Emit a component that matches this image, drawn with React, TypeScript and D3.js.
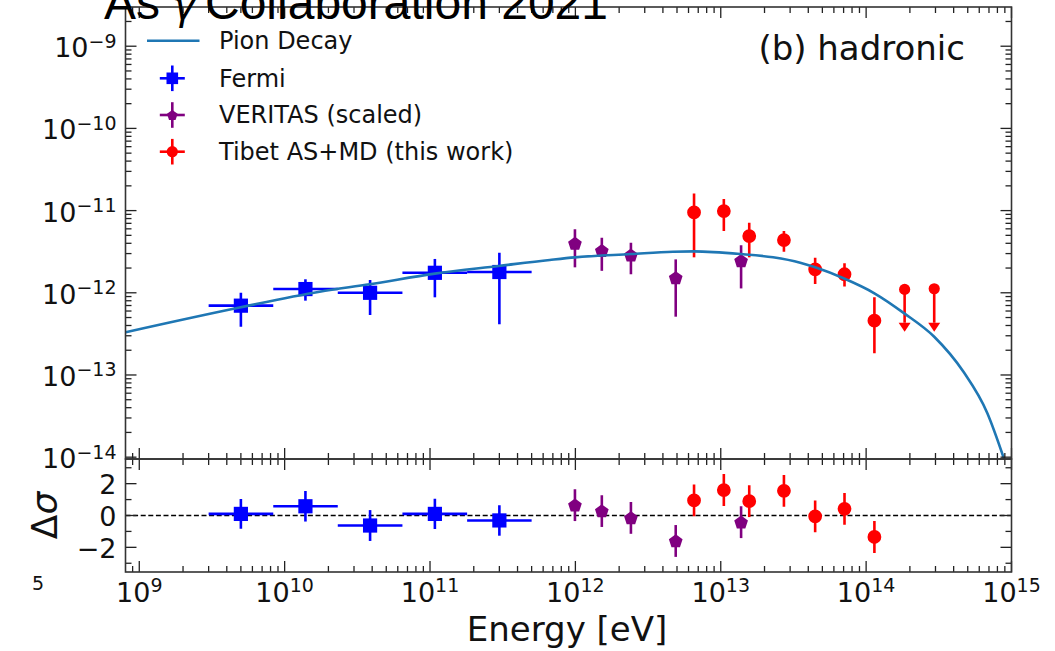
import React from 'react';
import * as d3 from 'd3';

// ---------- data ----------
const curveE = [8.04e8, 4.9e9, 1.74e10, 3.85e10, 1.08e11, 2.97e11, 6.67e11, 9.93e11, 2.41e12, 4.69e12, 6.55e12, 1.38e13, 2.29e13, 3.52e13, 4.46e13, 7.06e13, 1.14e14, 1.83e14, 2.94e14, 4.66e14, 6.81e14, 8.91e14];
const curveF = [3.31e-13, 6.62e-13, 1.03e-12, 1.27e-12, 1.71e-12, 2.12e-12, 2.51e-12, 2.7e-12, 2.96e-12, 3.16e-12, 3.19e-12, 2.96e-12, 2.7e-12, 2.32e-12, 2.04e-12, 1.49e-12, 9.86e-13, 5.62e-13, 2.92e-13, 1.1e-13, 3.45e-14, 9.4e-15];

const fermiE = [5.0e9, 1.39e10, 3.87e10, 1.08e11, 3.0e11];
const fermiElo = [3.0e9, 8.35e9, 2.32e10, 6.46e10, 1.8e11];
const fermiEhi = [8.35e9, 2.32e10, 6.46e10, 1.8e11, 5.0e11];
const fermiF = [6.97e-13, 1.11e-12, 1.0e-12, 1.75e-12, 1.79e-12];
const fermiFhi = [1.0e-12, 1.46e-12, 1.43e-12, 2.58e-12, 3.07e-12];
const fermiFlo = [3.87e-13, 8.02e-13, 5.37e-13, 8.81e-13, 4.14e-13];
const fermiRes = [0.1, 0.58, -0.63, 0.1, -0.31];
const fermiResErr = [0.94, 0.96, 0.97, 0.95, 0.96];

const veritasE = [9.93e11, 1.52e12, 2.41e12, 4.9e12, 1.38e13];
const veritasF = [3.99e-12, 3.25e-12, 2.86e-12, 1.52e-12, 2.45e-12];
const veritasFhi = [5.91e-12, 4.68e-12, 4.06e-12, 2.55e-12, 3.78e-12];
const veritasFlo = [2.04e-12, 1.85e-12, 1.68e-12, 5.12e-13, 1.13e-12];
const veritasRes = [0.65, 0.28, -0.15, -1.6, -0.42];
const veritasResErr = [1, 1, 1, 1, 1];

const tibetE = [6.55e12, 1.05e13, 1.57e13, 2.72e13, 4.46e13, 7.1e13, 1.14e14];
const tibetF = [9.51e-12, 9.87e-12, 4.9e-12, 4.38e-12, 1.93e-12, 1.68e-12, 4.58e-13];
const tibetFhi = [1.62e-11, 1.38e-11, 7.11e-12, 5.64e-12, 2.67e-12, 2.28e-12, 8.81e-13];
const tibetFlo = [2.7e-12, 5.64e-12, 2.7e-12, 3.16e-12, 1.28e-12, 1.19e-12, 1.84e-13];
const tibetRes = [0.95, 1.6, 0.9, 1.55, -0.05, 0.42, -1.35];
const tibetResErr = [1, 1, 1, 1, 1, 1, 1];

const tibetUlE = [1.84e14, 2.94e14];
const tibetUlF = [1.1e-12, 1.12e-12];
const tibetUlEnd = [4.32e-13, 4.32e-13];

const xTickExps = [9, 10, 11, 12, 13, 14, 15];
const yTickExps = [-14, -13, -12, -11, -10, -9];
const resTicks = [-2, 0, 2];
const resMinor = [-3, -1, 1, 3];

const legendLabels = ['Pion Decay', 'Fermi', 'VERITAS (scaled)', 'Tibet AS+MD (this work)'];

// ---------- layout ----------
const W = 1055, H = 651;
const L = 125.5, R = 1011.5, T = 7, MB = 459, RB = 572;
const FONT = 'DejaVu Sans';
const BLUE = '#0000ff', PURPLE = '#800080', RED = '#ff0000', CURVE = '#1f77b4';

const x = d3.scaleLog().domain([8.04e8, 1e15]).range([L, R]);
const y = d3.scaleLog().domain([9.5e-15, 3e-9]).range([MB, T]);
const yr = d3.scaleLinear().domain([-3.55, 3.55]).range([RB, MB]);

const MAJ = 11, MIN = 6;

function minorVals(lo: number, hi: number, d0: number, d1: number) {
  const out: number[] = [];
  for (let d = d0; d <= d1; d++) for (let m = 2; m <= 9; m++) {
    const v = m * Math.pow(10, d);
    if (v >= lo && v <= hi) out.push(v);
  }
  return out;
}

const pentagon = (cx: number, cy: number, r: number) => {
  const pts: string[] = [];
  for (let i = 0; i < 5; i++) {
    const a = -Math.PI / 2 + (i * 2 * Math.PI) / 5;
    pts.push(`${cx + r * Math.cos(a)},${cy + r * Math.sin(a)}`);
  }
  return pts.join(' ');
};

function Marker({ kind, cx, cy, color }: { kind: string; cx: number; cy: number; color: string }) {
  if (kind === 'square') return <rect x={cx - 5.8} y={cy - 5.8} width={11.6} height={11.6} fill={color} />;
  if (kind === 'pent') return <polygon points={pentagon(cx, cy + 0.5, 5.6)} fill={color} />;
  return <circle cx={cx} cy={cy} r={5.6} fill={color} />;
}

export default function App() {
  const xMinor = minorVals(8.04e8, 1e15, 8, 14);
  const yMinor = minorVals(9.5e-15, 3e-9, -15, -9);

  const line = d3.line<number>()
    .x((_, i) => x(curveE[i]))
    .y((_, i) => y(curveF[i]))
    .curve(d3.curveMonotoneX);

  const sw = 2.6;

  const xTicksPanel = (yBase: number, dir: number, key: string) => (
    <g key={key} stroke="#222" strokeWidth={1.3}>
      {xTickExps.map(e => {
        const px = x(Math.pow(10, e));
        return <line key={'M' + e} x1={px} x2={px} y1={yBase} y2={yBase + dir * MAJ} />;
      })}
      {xMinor.map((v, i) => {
        const px = x(v);
        return <line key={'m' + i} x1={px} x2={px} y1={yBase} y2={yBase + dir * MIN} />;
      })}
    </g>
  );

  return (
    <svg width={W} height={H} style={{ position: 'absolute', left: 0, top: 0, background: '#fff' }} fontFamily={FONT}>
      <defs>
        <clipPath id="mainClip"><rect x={L} y={T} width={R - L} height={MB - T} /></clipPath>
        <clipPath id="resClip"><rect x={L} y={MB} width={R - L} height={RB - MB} /></clipPath>
      </defs>
      <rect x={0} y={0} width={W} height={H} fill="#fff" />

      {/* cut-off superscript from neighbouring panel */}
      <text x={38} y={590} fontSize={19} textAnchor="middle" fill="#111">5</text>

      {/* ---------- main panel data ---------- */}
      <g clipPath="url(#mainClip)">
        {fermiE.map((e, i) => (
          <g key={'f' + i} stroke={BLUE} strokeWidth={sw}>
            <line x1={x(fermiElo[i])} x2={x(fermiEhi[i])} y1={y(fermiF[i])} y2={y(fermiF[i])} />
            <line x1={x(e)} x2={x(e)} y1={y(fermiFhi[i])} y2={y(fermiFlo[i])} />
            <Marker kind="square" cx={x(e)} cy={y(fermiF[i])} color={BLUE} />
          </g>
        ))}
        {veritasE.map((e, i) => (
          <g key={'v' + i} stroke={PURPLE} strokeWidth={sw}>
            <line x1={x(e)} x2={x(e)} y1={y(veritasFhi[i])} y2={y(veritasFlo[i])} />
            <Marker kind="pent" cx={x(e)} cy={y(veritasF[i])} color={PURPLE} />
          </g>
        ))}
        {tibetE.map((e, i) => (
          <g key={'t' + i} stroke={RED} strokeWidth={sw}>
            <line x1={x(e)} x2={x(e)} y1={y(tibetFhi[i])} y2={y(tibetFlo[i])} />
            <Marker kind="circle" cx={x(e)} cy={y(tibetF[i])} color={RED} />
          </g>
        ))}
        {tibetUlE.map((e, i) => {
          const px = x(e), y0 = y(tibetUlF[i]), y1 = y(tibetUlEnd[i]);
          return (
            <g key={'u' + i}>
              <line x1={px} x2={px} y1={y0} y2={y1} stroke={RED} strokeWidth={sw} />
              <polygon points={`${px - 6},${y1} ${px + 6},${y1} ${px},${y1 + 9}`} fill={RED} />
              <circle cx={px} cy={y0} r={5.6} fill={RED} />
            </g>
          );
        })}
        <path d={line(curveE) || ''} fill="none" stroke={CURVE} strokeWidth={2.6} />
      </g>

      {/* ---------- residual panel data ---------- */}
      <line x1={L} x2={R} y1={yr(0)} y2={yr(0)} stroke="#000" strokeWidth={1.5} strokeDasharray="5,2.6" />
      <g clipPath="url(#resClip)">
        {fermiE.map((e, i) => (
          <g key={'rf' + i} stroke={BLUE} strokeWidth={sw}>
            <line x1={x(fermiElo[i])} x2={x(fermiEhi[i])} y1={yr(fermiRes[i])} y2={yr(fermiRes[i])} />
            <line x1={x(e)} x2={x(e)} y1={yr(fermiRes[i] + fermiResErr[i])} y2={yr(fermiRes[i] - fermiResErr[i])} />
            <Marker kind="square" cx={x(e)} cy={yr(fermiRes[i])} color={BLUE} />
          </g>
        ))}
        {veritasE.map((e, i) => (
          <g key={'rv' + i} stroke={PURPLE} strokeWidth={sw}>
            <line x1={x(e)} x2={x(e)} y1={yr(veritasRes[i] + veritasResErr[i])} y2={yr(veritasRes[i] - veritasResErr[i])} />
            <Marker kind="pent" cx={x(e)} cy={yr(veritasRes[i])} color={PURPLE} />
          </g>
        ))}
        {tibetE.map((e, i) => (
          <g key={'rt' + i} stroke={RED} strokeWidth={sw}>
            <line x1={x(e)} x2={x(e)} y1={yr(tibetRes[i] + tibetResErr[i])} y2={yr(tibetRes[i] - tibetResErr[i])} />
            <Marker kind="circle" cx={x(e)} cy={yr(tibetRes[i])} color={RED} />
          </g>
        ))}
      </g>

      {/* ---------- ticks ---------- */}
      {xTicksPanel(T, 1, 'xt-top')}
      {xTicksPanel(MB, -1, 'xt-mainbot')}
      {xTicksPanel(MB, 1, 'xt-restop')}
      {xTicksPanel(RB, -1, 'xt-resbot')}
      <g stroke="#222" strokeWidth={1.3}>
        {yTickExps.map(e => {
          const py = y(Math.pow(10, e));
          return (
            <g key={'ym' + e}>
              <line x1={L} x2={L + MAJ} y1={py} y2={py} />
              <line x1={R} x2={R - MAJ} y1={py} y2={py} />
            </g>
          );
        })}
        {yMinor.map((v, i) => {
          const py = y(v);
          return (
            <g key={'yn' + i}>
              <line x1={L} x2={L + MIN} y1={py} y2={py} />
              <line x1={R} x2={R - MIN} y1={py} y2={py} />
            </g>
          );
        })}
        {resTicks.map(v => (
          <g key={'rm' + v}>
            <line x1={L} x2={L + MAJ} y1={yr(v)} y2={yr(v)} />
            <line x1={R} x2={R - MAJ} y1={yr(v)} y2={yr(v)} />
          </g>
        ))}
        {resMinor.map(v => (
          <g key={'rn' + v}>
            <line x1={L} x2={L + MIN} y1={yr(v)} y2={yr(v)} />
            <line x1={R} x2={R - MIN} y1={yr(v)} y2={yr(v)} />
          </g>
        ))}
      </g>

      {/* ---------- spines ---------- */}
      <rect x={L} y={T} width={R - L} height={MB - T} fill="none" stroke="#333" strokeWidth={1.6} />
      <rect x={L} y={MB} width={R - L} height={RB - MB} fill="none" stroke="#333" strokeWidth={1.6} />

      {/* ---------- tick labels ---------- */}
      {yTickExps.map(e => (
        <text key={'yl' + e} x={116.5} y={y(Math.pow(10, e)) + 11} fontSize={27} textAnchor="end" fill="#111">
          10<tspan dy={-9.5} fontSize={19}>{'\u2212' + Math.abs(e)}</tspan>
        </text>
      ))}
      {resTicks.map(v => (
        <text key={'rl' + v} x={116.5} y={yr(v) + 10.5} fontSize={27} textAnchor="end" fill="#111">
          {v < 0 ? '\u2212' + Math.abs(v) : String(v)}
        </text>
      ))}
      {xTickExps.map(e => (
        <text key={'xl' + e} x={x(Math.pow(10, e))} y={601.5} fontSize={27} textAnchor="middle" fill="#111">
          10<tspan dy={-9.5} fontSize={19}>{String(e)}</tspan>
        </text>
      ))}

      {/* ---------- axis labels ---------- */}
      <text x={567} y={641} fontSize={34} textAnchor="middle" fill="#111">Energy [eV]</text>
      <text transform={`translate(57,${yr(0)}) rotate(-90)`} fontSize={36} textAnchor="middle" fill="#111">
        Δ<tspan fontStyle="italic">σ</tspan>
      </text>

      {/* ---------- annotation ---------- */}
      <text x={965} y={60} fontSize={34} textAnchor="end" fill="#111">(b) hadronic</text>

      {/* ---------- legend ---------- */}
      <g fontSize={24} fill="#111">
        <line x1={147} x2={199.5} y1={40.7} y2={40.7} stroke={CURVE} strokeWidth={2.6} />
        <text x={219} y={49.3}>{legendLabels[0]}</text>
        {[
          { c: BLUE, k: 'square', yy: 78.3 },
          { c: PURPLE, k: 'pent', yy: 115 },
          { c: RED, k: 'circle', yy: 151.7 },
        ].map((h, i) => (
          <g key={'lg' + i}>
            <g stroke={h.c} strokeWidth={sw}>
              <line x1={172.3 - 12.5} x2={172.3 + 12.5} y1={h.yy} y2={h.yy} />
              <line x1={172.3} x2={172.3} y1={h.yy - 12.8} y2={h.yy + 12.8} />
            </g>
            <Marker kind={h.k} cx={172.3} cy={h.yy} color={h.c} />
            <text x={219} y={h.yy + 8.3}>{legendLabels[i + 1]}</text>
          </g>
        ))}
      </g>

      {/* ---------- cut-off title ---------- */}
      <g fontFamily="Liberation Sans" fontSize={48} fill="#000">
        <text x={104} y={18.5}>As</text>
        <text x={172} y={18.5} fontFamily="DejaVu Sans" fontSize={40} fontStyle="italic">γ</text>
        <text x={205} y={18.5}>Collaboration 2021</text>
      </g>
    </svg>
  );
}
